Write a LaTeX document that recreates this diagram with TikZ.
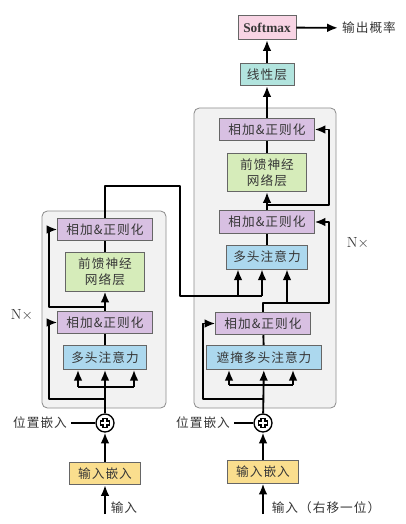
\documentclass[tikz,border=0pt]{standalone}
\usepackage{fontspec}
\usepackage{tikz}
\usetikzlibrary{arrows.meta}
\newfontfamily\zhfont[LetterSpace=8]{Noto Sans CJK SC}
\newfontfamily\smfont{Liberation Serif}
\definecolor{anFill}{RGB}{216,192,226}
\definecolor{ffnFill}{RGB}{214,236,186}
\definecolor{mhaFill}{RGB}{172,216,238}
\definecolor{embFill}{RGB}{250,222,142}
\definecolor{linFill}{RGB}{178,228,222}
\definecolor{smFill}{RGB}{248,212,228}
\definecolor{frameFill}{RGB}{242,242,242}
\definecolor{txtGray}{RGB}{55,55,55}

\tikzset{
  blk/.style={draw=black!60,line width=0.6pt,inner sep=0pt,font=\zhfont\fontsize{9.5}{12}\selectfont,text=txtGray,align=center},
  anbox/.style={blk,fill=anFill,minimum width=71pt,minimum height=17pt},
  ffnbox/.style={blk,fill=ffnFill,minimum width=59pt,minimum height=29pt},
  mhabox/.style={blk,fill=mhaFill,minimum height=18pt},
  embbox/.style={blk,fill=embFill,minimum width=53pt,minimum height=17pt},
  addcirc/.style={circle,draw,fill=white,line width=1pt,minimum size=13.5pt,inner sep=0pt},
  lbl/.style={font=\zhfont\fontsize{9.5}{12}\selectfont,text=txtGray,inner sep=3pt},
  frame/.style={draw=black!45,fill=frameFill,rounded corners=4pt,line width=0.6pt},
  line/.style={line width=1.4pt,line join=round},
  arr/.style={line,-{Latex[length=8pt,width=6.5pt]}}
}
\newcommand{\plusmark}[1]{%
  \draw[line width=4.2pt] ([xshift=-3.6pt]#1.center) -- ([xshift=3.6pt]#1.center);
  \draw[line width=4.2pt] ([yshift=-3.6pt]#1.center) -- ([yshift=3.6pt]#1.center);
  \draw[white,line width=1.8pt] ([xshift=-2.7pt]#1.center) -- ([xshift=2.7pt]#1.center);
  \draw[white,line width=1.8pt] ([yshift=-2.7pt]#1.center) -- ([yshift=2.7pt]#1.center);}

\begin{document}
\begin{tikzpicture}[x=0.75pt,y=-0.75pt]
\useasboundingbox[fill=white] (0,0) rectangle (405,524);

% frames
\draw[frame] (42,211) rectangle (166,408);
\draw[frame] (194,108) rectangle (336,408);

% encoder
\node[anbox] (encAN2) at (105,229.5) {相加\&正则化};
\node[ffnbox] (encFFN) at (105,272) {前馈神经\\网络层};
\node[anbox] (encAN1) at (105,322.5) {相加\&正则化};
\node[mhabox,minimum width=62pt] (encMHA) at (105,357.5) {多头注意力};
\node[addcirc] (encAdd) at (105,423) {};
\node[embbox] (encEmb) at (105,473.5) {输入嵌入};
\node[lbl] (posL) at (40,423) {位置嵌入};
\node[lbl] (inL) at (124,508) {输入};
\node[font=\fontsize{11}{13}\selectfont,text=txtGray] (nL) at (22,315) {N$\times$};
\coordinate (encIn) at (105,514);

% decoder
\node[embbox] (decEmb) at (263,472) {输入嵌入};
\node[addcirc] (decAdd) at (263,423) {};
\node[mhabox,minimum width=86pt] (decMMHA) at (264,357.5) {遮掩多头注意力};
\node[anbox] (decAN1) at (263,323.5) {相加\&正则化};
\node[mhabox,minimum width=61pt] (decMHA) at (267,257) {多头注意力};
\node[anbox] (decAN2) at (267,222) {相加\&正则化};
\node[ffnbox] (decFFN) at (267,172.5) {前馈神经\\网络层};
\node[anbox] (decAN3) at (267,129.5) {相加\&正则化};
\node[blk,fill=linFill,minimum width=40.5pt,minimum height=17pt] (linear) at (267,74.5) {线性层};
\node[blk,fill=smFill,minimum width=43.5pt,minimum height=18.5pt,font=\smfont\bfseries\fontsize{10}{12}\selectfont] (softmax) at (267,27.5) {Softmax};
\node[lbl] (outLbl) at (369,28) {输出概率};
\node[lbl] (posR) at (203,423) {位置嵌入};
\node[lbl] (inR) at (326,508) {输入（右移一位）};
\node[font=\fontsize{11}{13}\selectfont,text=txtGray] (nR) at (358,243) {N$\times$};
\coordinate (decIn) at (263,514);

% encoder connectors
\draw[arr] (encIn) -- (encEmb);
\draw[arr] (encEmb) -- (encAdd);
\draw[line] (posL) -- (encAdd);
\draw[arr] (encAdd) -- (encMHA);
\draw[line] (78,387) -- (134,387);
\draw[arr] (78,387) -- (78,387 |- encMHA.south);
\draw[arr] (134,387) -- (134,387 |- encMHA.south);
\draw[arr] (105,399) -| (49,322.5) -- (encAN1.west);
\draw[line] (encMHA) -- (encAN1);
\draw[arr] (encAN1) -- (encFFN);
\draw[arr] (105,307) -| (49,229.5) -- (encAN2.west);
\draw[line] (encFFN) -- (encAN2);
\draw[line] (encAN2.north) -- (105,186) -| (180,296) -- (262,296);
\draw[arr] (238,296) -- (238,296 |- decMHA.south);
\draw[arr] (262,296) -- (262,296 |- decMHA.south);

% decoder connectors
\draw[arr] (decIn) -- (decEmb);
\draw[arr] (decEmb) -- (decAdd);
\draw[line] (posR) -- (decAdd);
\draw[arr] (decAdd) -- (decMMHA);
\draw[line] (229,385) -- (293,385);
\draw[arr] (229,385) -- (229,385 |- decMMHA.south);
\draw[arr] (293,385) -- (293,385 |- decMMHA.south);
\draw[arr] (263,399) -| (203,323.5) -- (decAN1.west);
\draw[line] (decMMHA) -- (decAN1);
\draw[arr] (decAN1.north) -- (263,303) -| (329,222) -- (decAN2.east);
\draw[arr] (287,303) -- (287,303 |- decMHA.south);
\draw[line] (decMHA) -- (decAN2);
\draw[arr] (decAN2) -- (decFFN);
\draw[arr] (267,205) -| (329,129.5) -- (decAN3.east);
\draw[line] (decFFN) -- (decAN3);
\draw[arr] (decAN3) -- (linear);
\draw[arr] (linear) -- (softmax);
\draw[arr] (softmax) -- (outLbl);

\plusmark{encAdd}
\plusmark{decAdd}
\end{tikzpicture}
\end{document}
